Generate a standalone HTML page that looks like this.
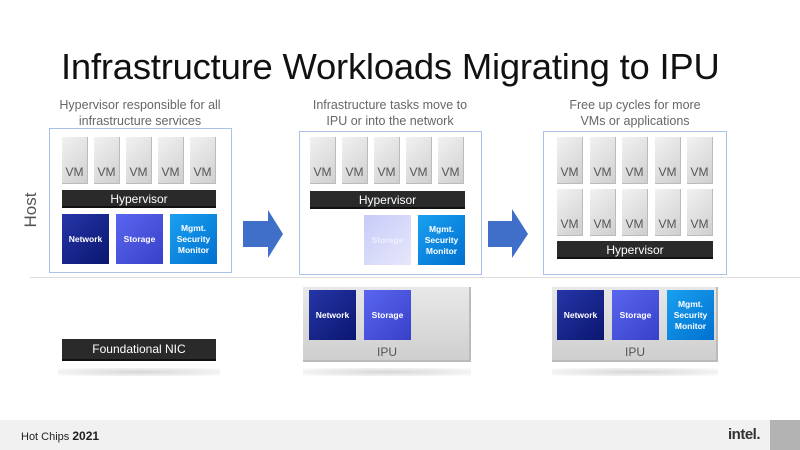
<!DOCTYPE html>
<html><head><meta charset="utf-8"><style>
*{margin:0;padding:0;box-sizing:border-box}
body{width:800px;height:450px;position:relative;background:#fff;font-family:"Liberation Sans",sans-serif;overflow:hidden}
.a{position:absolute}
.title{left:61px;top:46px;font-size:36.4px;color:#111;letter-spacing:-0.2px;white-space:nowrap}
.cap{font-size:12.5px;color:#666;text-align:center;line-height:16px;width:220px}
.panel{border:1.5px solid #aac0e8;background:#fff}
.vm{width:26px;height:47px;background:linear-gradient(135deg,#f2f2f2,#cfcfcf);border-right:1px solid #bbb;border-bottom:1px solid #bbb;font-size:12px;color:#555;text-align:center;padding-top:28px}
.hv{height:18px;background:#2a2a2a;color:#fff;font-size:12px;text-align:center;line-height:18px;border-bottom:2px solid #111}
.blk{width:47px;height:50px;color:#fff;font-size:8.5px;font-weight:bold;display:flex;align-items:center;justify-content:center;text-align:center;line-height:11px}
.net{background:linear-gradient(135deg,#2536a8,#0b1670)}
.sto{background:linear-gradient(135deg,#5a66f0,#3840c8)}
.mg{background:linear-gradient(135deg,#1aa0f0,#0070d0)}
.fade{background:linear-gradient(135deg,#c8cbf8,#e6e7fb);color:#eef}
.ipu{background:linear-gradient(180deg,#e8e8e8,#cfcfcf);border-right:2px solid #bbb;border-bottom:2px solid #bbb}
.ipul{font-size:12px;color:#555;text-align:center}
.sh{height:8px;background:radial-gradient(ellipse at center,#d6d6d6 0%,#eee 60%,#fff 100%)}
</style></head><body>
<div class="a title">Infrastructure Workloads Migrating to IPU</div>
<div class="a cap" style="left:30px;top:97px">Hypervisor responsible for all<br>infrastructure services</div>
<div class="a cap" style="left:280px;top:97px">Infrastructure tasks move to<br>IPU or into the network</div>
<div class="a cap" style="left:525px;top:97px">Free up cycles for more<br>VMs or applications</div>

<div class="a" style="left:6px;top:200px;width:50px;transform:rotate(-90deg);font-size:17px;color:#555;text-align:center">Host</div>
<div class="a" style="left:30px;top:277px;width:770px;height:1px;background:#ddd"></div>

<div class="a panel" style="left:49px;top:128px;width:183px;height:145px"></div>
<div class="a vm" style="left:62px;top:137px">VM</div>
<div class="a vm" style="left:94px;top:137px">VM</div>
<div class="a vm" style="left:126px;top:137px">VM</div>
<div class="a vm" style="left:158px;top:137px">VM</div>
<div class="a vm" style="left:190px;top:137px">VM</div>
<div class="a hv" style="left:62px;top:190px;width:154px">Hypervisor</div>
<div class="a blk net" style="left:62px;top:214px">Network</div>
<div class="a blk sto" style="left:116px;top:214px">Storage</div>
<div class="a blk mg" style="left:170px;top:214px">Mgmt.<br>Security<br>Monitor</div>
<div class="a hv" style="left:62px;top:339px;width:154px;height:22px;line-height:21px">Foundational NIC</div>
<div class="a sh" style="left:58px;top:368px;width:162px"></div>

<svg class="a" style="left:0;top:0" width="800" height="450">
<polygon points="243,221 268,221 268,210 283,234 268,258 268,247 243,247" fill="#3f6fc8"/>
<polygon points="488,221 512,221 512,209 528,234 512,258 512,247 488,247" fill="#3f6fc8"/>
</svg>

<div class="a panel" style="left:299px;top:131px;width:183px;height:144px"></div>
<div class="a vm" style="left:310px;top:137px">VM</div>
<div class="a vm" style="left:342px;top:137px">VM</div>
<div class="a vm" style="left:374px;top:137px">VM</div>
<div class="a vm" style="left:406px;top:137px">VM</div>
<div class="a vm" style="left:438px;top:137px">VM</div>
<div class="a hv" style="left:310px;top:191px;width:155px">Hypervisor</div>
<div class="a blk fade" style="left:364px;top:215px">Storage</div>
<div class="a blk mg" style="left:418px;top:215px">Mgmt.<br>Security<br>Monitor</div>
<div class="a ipu" style="left:303px;top:287px;width:168px;height:75px"></div>
<div class="a blk net" style="left:309px;top:290px">Network</div>
<div class="a blk sto" style="left:364px;top:290px">Storage</div>
<div class="a ipul" style="left:303px;top:345px;width:168px">IPU</div>
<div class="a sh" style="left:303px;top:368px;width:168px"></div>

<div class="a panel" style="left:543px;top:131px;width:184px;height:144px"></div>
<div class="a vm" style="left:557px;top:137px">VM</div>
<div class="a vm" style="left:590px;top:137px">VM</div>
<div class="a vm" style="left:622px;top:137px">VM</div>
<div class="a vm" style="left:655px;top:137px">VM</div>
<div class="a vm" style="left:687px;top:137px">VM</div>
<div class="a vm" style="left:557px;top:189px">VM</div>
<div class="a vm" style="left:590px;top:189px">VM</div>
<div class="a vm" style="left:622px;top:189px">VM</div>
<div class="a vm" style="left:655px;top:189px">VM</div>
<div class="a vm" style="left:687px;top:189px">VM</div>
<div class="a hv" style="left:557px;top:241px;width:156px">Hypervisor</div>
<div class="a ipu" style="left:552px;top:287px;width:166px;height:75px"></div>
<div class="a blk net" style="left:557px;top:290px">Network</div>
<div class="a blk sto" style="left:612px;top:290px">Storage</div>
<div class="a blk mg" style="left:667px;top:290px">Mgmt.<br>Security<br>Monitor</div>
<div class="a ipul" style="left:552px;top:345px;width:166px">IPU</div>
<div class="a sh" style="left:552px;top:368px;width:166px"></div>

<div class="a" style="left:0;top:420px;width:800px;height:30px;background:#f1f1f1"></div>
<div class="a" style="left:770px;top:420px;width:30px;height:30px;background:#b3b3b3"></div>
<div class="a" style="left:21px;top:429px;font-size:11px;color:#222">Hot Chips <b style="font-size:12px">2021</b></div>
<div class="a" style="left:728px;top:426px;font-size:15px;font-weight:bold;color:#333;letter-spacing:-0.5px">intel.</div>
</body></html>
